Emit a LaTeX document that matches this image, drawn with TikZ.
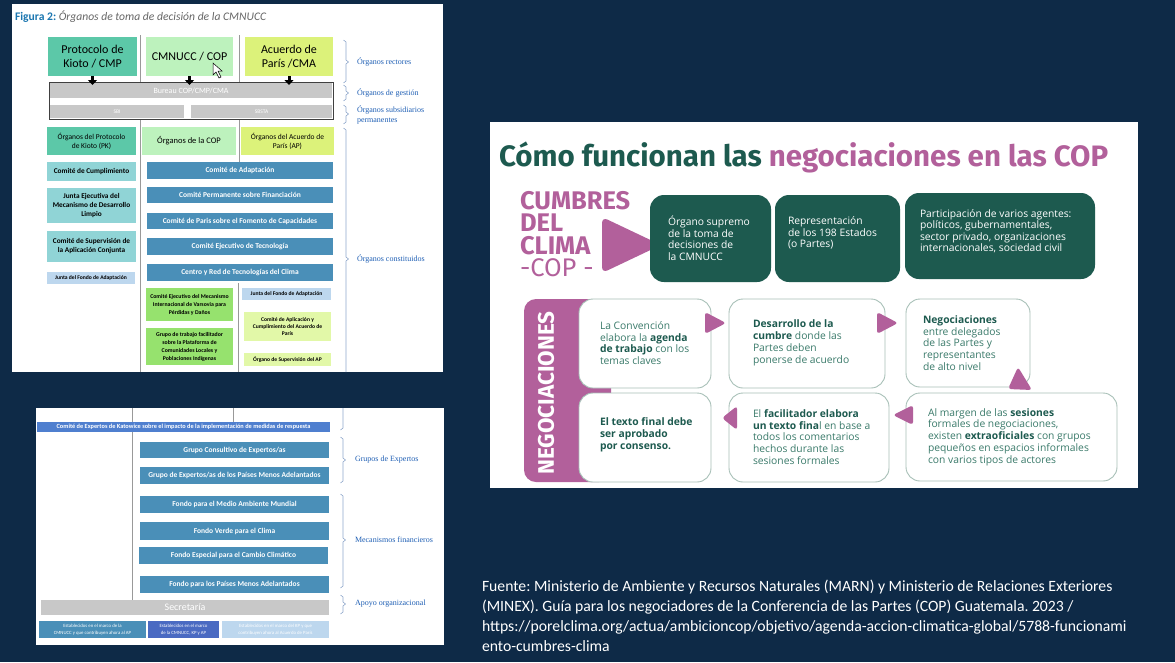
\documentclass[tikz,border=0pt]{standalone}
\usepackage{fontspec}
\setmainfont{Carlito}
\newfontfamily\serifl{Liberation Serif}
\newfontfamily\opensans{Open Sans}
\newfontfamily\fira{Fira Sans}
\usetikzlibrary{arrows.meta,calc}
\frenchspacing
\definecolor{bg}{HTML}{0E2A47}
\definecolor{cteal}{HTML}{5CC8A8}
\definecolor{clgreen}{HTML}{BDF2BD}
\definecolor{cyellow}{HTML}{DCF27A}
\definecolor{cgray}{HTML}{C8C8C8}
\definecolor{cteal2}{HTML}{90D4D6}
\definecolor{clblue}{HTML}{BDD7EE}
\definecolor{cblue}{HTML}{4A8FB8}
\definecolor{cgreen}{HTML}{96E26E}
\definecolor{cpale}{HTML}{E2F8A8}
\definecolor{ckat}{HTML}{4F7FCF}
\definecolor{cmblue}{HTML}{4A6AC2}
\definecolor{clabel}{HTML}{2060B5}
\definecolor{cbrk}{HTML}{90A8CC}
\definecolor{figblue}{HTML}{1A76B0}
\definecolor{dgreen}{HTML}{1D5A4F}
\definecolor{cpink}{HTML}{B2609B}
\definecolor{cborder}{HTML}{A8C0B8}
\definecolor{cwtext}{HTML}{3A7A6A}
\newcommand\bx[7]{\node[#6, minimum width={#4pt-#2pt}, minimum height={#5pt-#3pt}] (#1) at ({(#2+#4)/2},{(#3+#5)/2}) {#7};}
\newcommand\brk[4]{\draw[brk] ({#1-2.5},{#2}) -- ({#1},{#2+2}) -- ({#1},{#4-2}) -- ({#1+2.5},{#4}) -- ({#1},{#4+2}) -- ({#1},{#3-2}) -- ({#1-2.5},{#3});}
\newcommand\hb[1]{\textbf{\color{dgreen}#1}}
\tikzset{
  every node/.style={inner sep=0pt, outer sep=0pt},
  topbox/.style={align=center, font=\fontsize{12}{13.5}\selectfont, text=black},
  hdr/.style={align=center, font=\fontsize{7.5}{9}\selectfont, text=black},
  lbox/.style={fill=cteal2, align=center, font=\bfseries\fontsize{7.3}{9}\selectfont, text=black},
  sbox/.style={align=center, font=\bfseries\fontsize{5.6}{7.2}\selectfont, text=black},
  bbar/.style={fill=cblue, text=white, font=\bfseries\fontsize{7.5}{9}\selectfont},
  gbox/.style={fill=cgreen, align=center, font=\bfseries\fontsize{5.8}{8}\selectfont, text=black},
  kbox/.style={fill=ckat, text=white, font=\bfseries\fontsize{6.3}{8}\selectfont},
  legbox/.style={text=white, align=center, font=\fontsize{4.8}{6.5}\selectfont},
  lbl/.style={text=clabel, anchor=west, align=left, font=\serifl\fontsize{8}{9.5}\selectfont},
  brk/.style={draw=cbrk, line width=0.6pt},
  sepline/.style={draw=black!40, line width=0.8pt},
  blackarrow/.style={-{Triangle[width=9pt,length=5pt]}, line width=3pt, black},
  dbox/.style={fill=dgreen, rounded corners=14pt},
  dtext/.style={anchor=west, align=left, text=white, font=\opensans\fontsize{10.3}{11.5}\selectfont},
  wbox/.style={fill=white, draw=cborder, line width=0.9pt, rounded corners=14pt},
  wtext/.style={anchor=west, align=left, text=cwtext, font=\opensans\fontsize{10.3}{11.8}\selectfont}
}
\begin{document}
\begin{tikzpicture}[x=1pt,y=-1pt]
\useasboundingbox (0,0) rectangle (1175,662);
\fill[bg] (0,0) rectangle (1175,662);
% panels
\fill[white] (12,4) rectangle (443,372);
\fill[white] (36,408) rectangle (444,645);
\fill[white] (490,122) rectangle (1138,488);

% ---------- top-left panel ----------
\node[anchor=west, font=\fontsize{11.6}{12}\selectfont] (fig) at (15,17) {\textcolor{figblue}{\bfseries Figura 2:} \textcolor{black!60}{\itshape Órganos de toma de decisión de la CMNUCC}};
\draw[sepline] (140,35) -- (140,372);
\draw[sepline] (239,35) -- (239,162);
\draw[sepline] (238,283) -- (238,372);

\bx{kp}{48}{37}{137}{76}{topbox, fill=cteal}{Protocolo de\\Kioto / CMP}
\bx{cop}{146}{37}{233}{76}{topbox, fill=clgreen}{CMNUCC / COP}
\bx{pa}{245}{37}{333}{76}{topbox, fill=cyellow}{Acuerdo de\\París /CMA}
\draw[fill=white, draw=black, line width=0.5pt] (213,63) -- (213,75) -- (216,72) -- (219,78) -- (221,77) -- (218,71) -- (222,71) -- cycle;

\bx{bframe}{49}{82}{333}{119}{fill=white, draw=black!75, line width=0.8pt}{}
\bx{bureau}{50}{83}{332}{98}{fill=cgray, text=white, font=\fontsize{8}{9}\selectfont}{Bureau COP/CMP/CMA}
\bx{sbi}{50}{105}{184}{118}{fill=cgray, text=white, font=\fontsize{5.5}{6}\selectfont}{SBI}
\bx{sbsta}{191}{105}{332}{118}{fill=cgray, text=white, font=\fontsize{5.5}{6}\selectfont}{SBSTA}
\draw[blackarrow] (kp.south) -- ($(kp.south |- bframe.north)+(0,3)$);
\draw[blackarrow] (cop.south) -- ($(cop.south |- bframe.north)+(0,3)$);
\draw[blackarrow] (pa.south) -- ($(pa.south |- bframe.north)+(0,3)$);

\bx{hpk}{47}{127}{136}{155}{hdr, fill=cteal}{Órganos del Protocolo\\de Kioto (PK)}
\bx{hcop}{142}{127}{236}{155}{hdr, fill=clgreen, font=\fontsize{8.5}{10}\selectfont}{Órganos de la COP}
\bx{hpa}{241}{127}{334}{155}{hdr, fill=cyellow}{Órganos del Acuerdo de\\París (AP)}

\bx{cc}{47}{162}{136}{181}{lbox}{Comité de Cumplimiento}
\bx{mdl}{47}{188}{136}{223}{lbox}{Junta Ejecutiva del\\Mecanismo de Desarrollo\\Limpio}
\bx{sac}{47}{231}{136}{262}{lbox}{Comité de Supervisión de\\la Aplicación Conjunta}
\bx{jfa1}{47}{272}{135}{284}{sbox, fill=clblue}{Junta del Fondo de Adaptación}

\bx{ca}{147}{162}{333}{179}{bbar}{Comité de Adaptación}
\bx{cpf}{147}{187}{333}{203}{bbar}{Comité Permanente sobre Financiación}
\bx{cpfc}{147}{213}{333}{229}{bbar}{Comité de Paris sobre el Fomento de Capacidades}
\bx{cet}{147}{238}{333}{255}{bbar}{Comité Ejecutivo de Tecnología}
\bx{crtc}{147}{264}{333}{281}{bbar}{Centro y Red de Tecnologías del Clima}

\bx{wim}{146}{288}{233}{321}{gbox}{Comité Ejecutivo del Mecanismo\\Internacional de Varsovia para\\Pérdidas y Daños}
\bx{lcip}{146}{328}{233}{365}{gbox}{Grupo de trabajo facilitador\\sobre la Plataforma de\\Comunidades Locales y\\Poblaciones Indígenas}
\bx{jfa2}{242}{288}{331}{300}{sbox, fill=clblue}{Junta del Fondo de Adaptación}
\bx{pacc}{244}{312}{331}{341}{sbox, fill=cpale}{Comité de Aplicación y\\Cumplimiento del Acuerdo de\\París}
\bx{osap}{244}{353}{331}{366}{sbox, fill=cpale}{Órgano de Supervisión del AP}

\brk{346}{40}{83}{62}
\brk{346}{85}{101}{93}
\brk{346}{105}{124}{114}
\draw[brk] (343.5,128) -- (346,130) -- (346,257) -- (348.5,259) -- (346,261) -- (346,372);
\node[lbl] (l1) at (357,62) {Órganos rectores};
\node[lbl] (l2) at (357,93) {Órganos de gestión};
\node[lbl] (l3) at (357,115) {Órganos subsidiarios\\permanentes};
\node[lbl] (l4) at (357,259) {Órganos constituidos};

% ---------- bottom-left panel ----------
\draw[sepline] (132,408) -- (132,600);
\draw[sepline] (233,408) -- (233,422);
\bx{kat}{37}{422}{330}{432}{kbox}{Comité de Expertos de Katowice sobre el impacto de la implementación de medidas de respuesta}
\bx{gce}{140}{442}{329}{458}{bbar}{Grupo Consultivo de Expertos/as}
\bx{gpma}{140}{467}{329}{484}{bbar}{Grupo de Expertos/as de los Países Menos Adelantados}
\bx{fmam}{140}{496}{329}{513}{bbar}{Fondo para el Medio Ambiente Mundial}
\bx{fvc}{140}{522}{329}{540}{bbar}{Fondo Verde para el Clima}
\bx{fecc}{139}{547}{328}{564}{bbar}{Fondo Especial para el Cambio Climático}
\bx{fpma}{140}{576}{329}{593}{bbar}{Fondo para los Países Menos Adelantados}
\bx{sec}{41}{600}{329}{615}{fill=cgray, text=white, font=\fontsize{10}{11}\selectfont}{Secretaría}
\bx{lg1}{39}{621}{146}{638}{legbox, fill=cblue}{Establecidos en el marco de la\\CMNUCC y que contribuyen ahora al AP}
\bx{lg2}{148}{621}{219}{638}{legbox, fill=cmblue}{Establecidos en el marco\\de la CMNUCC, KP y AP}
\bx{lg3}{222}{621}{329}{638}{legbox, fill=clblue}{Establecidos en el marco del KP y que\\contribuyen ahora al Acuerdo de París}

\draw[brk] (343,408) -- (343,428) -- (340.5,430);
\brk{343}{437}{483}{460}
\brk{343}{494}{588}{540}
\brk{343}{595}{614}{604}
\node[lbl] (l5) at (355,460) {Grupos de Expertos};
\node[lbl] (l6) at (355,540) {Mecanismos financieros};
\node[lbl] (l7) at (355,604) {Apoyo organizacional};

% ---------- right panel ----------
\node[anchor=base west, font=\fira\bfseries\fontsize{29.5}{29.5}\selectfont] (title) at (499,166) {\textcolor{dgreen}{Cómo funcionan las }\textcolor{cpink}{negociaciones en las COP}};
\node[anchor=north west, align=left, text=cpink, font=\fira\bfseries\fontsize{25.5}{22.6}\selectfont] (cumb) at (520,191) {CUMBRES\\DEL\\CLIMA\\\mdseries -COP -};
\fill[cpink, rounded corners=6pt] (602,217) -- (661,245) -- (602,273) -- cycle;

\bx{d1}{650}{195}{771}{282}{dbox}{}
\bx{d2}{775}{195}{900}{282}{dbox}{}
\bx{d3}{905}{193}{1095}{279}{dbox}{}
\node[dtext] (d1t) at (668,238) {Órgano supremo\\de la toma de\\decisiones de\\la CMNUCC};
\node[dtext] (d2t) at (788,233) {Representación\\de los 198 Estados\\(o Partes)};
\node[dtext] (d3t) at (920,231) {Participación de varios agentes:\\políticos, gubernamentales,\\sector privado, organizaciones\\internacionales, sociedad civil};

\fill[cpink, rounded corners=12pt] (524,299) rectangle (611,482);
\node[rotate=90, text=white, font=\fira\bfseries\fontsize{22.5}{22.5}\selectfont] (neg) at (546,393) {NEGOCIACIONES};

\bx{w1}{579}{299}{711}{388}{wbox}{}
\bx{w2}{729}{299}{885}{388}{wbox}{}
\bx{w3}{906}{299}{1030}{387}{wbox}{}
\bx{w4}{579}{393}{711}{482}{wbox}{}
\bx{w5}{729}{393}{889}{482}{wbox}{}
\bx{w6}{906}{393}{1117}{481}{wbox}{}

\node[wtext] (t1) at (600,343) {La Convención\\elabora la \hb{agenda}\\\hb{de trabajo} con los\\temas claves};
\node[wtext] (t2) at (753,343) {\hb{Desarrollo de la}\\\hb{cumbre} donde las\\Partes deben\\ponerse de acuerdo};
\node[wtext] (t3) at (923,343) {\hb{Negociaciones}\\entre delegados\\de las Partes y\\representantes\\de alto nivel};
\node[wtext] (t4) at (600,435) {\hb{El texto final debe}\\\hb{ser aprobado}\\\hb{por consenso.}};
\node[wtext] (t5) at (753,437) {El \hb{facilitador elabora}\\\hb{un texto fina}l en base a\\todos los comentarios\\hechos durante las\\sesiones formales};
\node[wtext] (t6) at (928,437) {Al margen de las \hb{sesiones}\\formales de negociaciones,\\existen \hb{extraoficiales} con grupos\\pequeños en espacios informales\\con varios tipos de actores};

\fill[cpink, rounded corners=3pt] (705,312) -- (726,323) -- (705,334) -- cycle;
\fill[cpink, rounded corners=3pt] (877,312) -- (898,323) -- (877,334) -- cycle;
\fill[cpink, rounded corners=3pt] (1018,367) -- (1032,390) -- (1008,389) -- cycle;
\fill[cpink, rounded corners=3pt] (913,405) -- (893,415) -- (913,425) -- cycle;
\fill[cpink, rounded corners=3pt] (737,406) -- (722,418) -- (737,430) -- cycle;

% ---------- source ----------
\node[anchor=west, align=left, text=white, font=\fontsize{15.7}{20}\selectfont] (src) at (482,616) {Fuente: Ministerio de Ambiente y Recursos Naturales (MARN) y Ministerio de Relaciones Exteriores\\(MINEX). Guía para los negociadores de la Conferencia de las Partes (COP) Guatemala. 2023 /\\https://porelclima.org/actua/ambicioncop/objetivo/agenda-accion-climatica-global/5788-funcionami\\ento-cumbres-clima};
\end{tikzpicture}
\end{document}
